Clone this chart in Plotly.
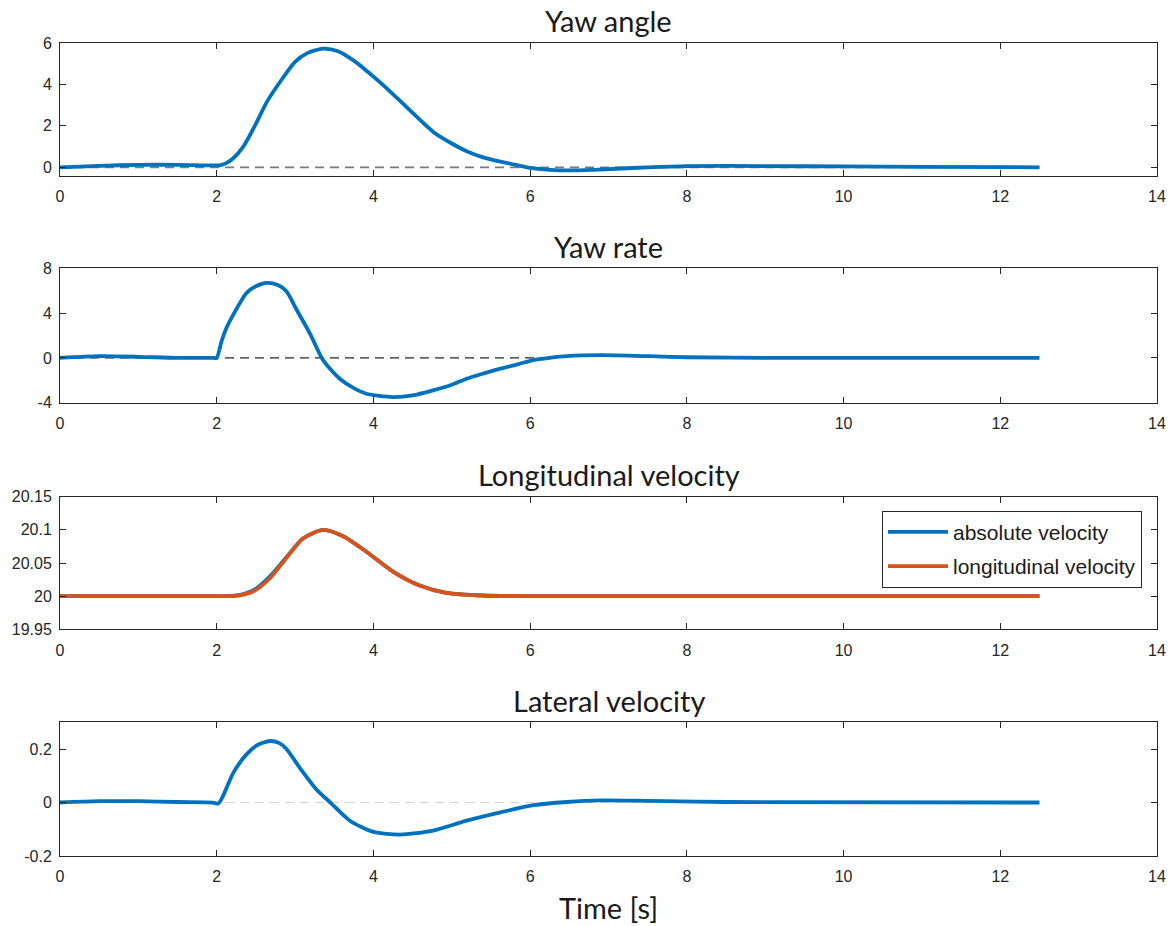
import plotly.graph_objects as go

# ---- data -------------------------------------------------------------
# Yaw angle [deg]
yaw_angle_t = [0.0, 0.5, 1.0, 1.5, 1.95, 2.05, 2.12, 2.2, 2.34, 2.5, 2.64, 2.81, 3.0, 3.15, 3.36,
               3.55, 3.74, 3.9, 4.1, 4.42, 4.76, 5.0, 5.19, 5.4, 5.62, 5.8, 6.0, 6.25, 6.5,
               6.8, 7.1, 7.5, 8.0, 9.0, 10.0, 11.0, 12.5]
yaw_angle_v = [0.0, 0.07, 0.12, 0.12, 0.09, 0.1, 0.2, 0.4, 1.0, 2.1, 3.16, 4.13, 5.09, 5.5, 5.73,
               5.6, 5.17, 4.7, 4.05, 2.92, 1.72, 1.15, 0.78, 0.48, 0.27, 0.13, -0.03, -0.12, -0.15,
               -0.12, -0.07, 0.0, 0.06, 0.06, 0.04, 0.02, 0.0]

# Yaw rate [deg/s]
yaw_rate_t = [0.0, 0.5, 1.0, 1.5, 1.96, 2.0, 2.06, 2.12, 2.21, 2.38, 2.5, 2.64, 2.78, 2.89, 3.02,
              3.2, 3.34, 3.45, 3.57, 3.75, 3.91, 4.25, 4.5, 4.76, 5.0, 5.19, 5.4, 5.62, 5.85,
              6.04, 6.25, 6.47, 6.89, 7.53, 8.0, 9.0, 12.5]
yaw_rate_v = [0.0, 0.15, 0.1, 0.0, 0.0, 0.0, 1.44, 2.6, 3.84, 5.8, 6.4, 6.7, 6.5, 5.95, 4.3,
              2.04, 0.0, -1.0, -1.86, -2.7, -3.2, -3.5, -3.35, -2.9, -2.4, -1.86, -1.4, -0.96, -0.55,
              -0.2, 0.0, 0.15, 0.24, 0.15, 0.06, 0.0, 0.0]

# Longitudinal and absolute velocity [m/s]
vel_t = [0.0, 2.0, 2.25, 2.47, 2.68, 2.94, 3.1, 3.36, 3.62, 3.91, 4.25, 4.59, 4.93, 5.4, 6.0, 12.5]
abs_vel_v = [20.0, 20.0, 20.001, 20.009, 20.03, 20.066, 20.087, 20.1, 20.09, 20.067, 20.037,
             20.016, 20.005, 20.001, 20.0, 20.0]
long_vel_v = [20.0, 20.0, 20.0005, 20.0075, 20.027, 20.065, 20.087, 20.1, 20.09, 20.067, 20.037,
              20.016, 20.005, 20.001, 20.0, 20.0]

# Lateral velocity [m/s]
lat_t = [0.0, 0.5, 1.0, 1.5, 1.95, 2.02, 2.08, 2.21, 2.38, 2.52, 2.68, 2.8, 2.89, 3.06, 3.27,
         3.45, 3.7, 4.0, 4.34, 4.76, 5.19, 5.62, 6.04, 6.47, 6.89, 7.53, 8.5, 12.5]
lat_v = [0.0, 0.005, 0.005, 0.002, 0.0, -0.004, 0.024, 0.11, 0.18, 0.215, 0.23, 0.222, 0.2, 0.13,
         0.05, 0.0, -0.068, -0.11, -0.12, -0.105, -0.068, -0.037, -0.01, 0.002, 0.008, 0.006,
         0.002, 0.0]

# zero reference lines (start, end)
zero_ref_angle = [0.0, 12.5]
zero_ref_rate = [0.0, 6.2]
zero_ref_lat = [0.0, 12.5]

titles = ["Yaw angle", "Yaw rate", "Longitudinal velocity", "Lateral velocity"]
x_ticks = [0, 2, 4, 6, 8, 10, 12, 14]
y_ticks = [
    [0, 2, 4, 6],
    [-4, 0, 4, 8],
    [19.95, 20.0, 20.05, 20.1, 20.15],
    [-0.2, 0.0, 0.2],
]
y_tick_text = [
    ["0", "2", "4", "6"],
    ["-4", "0", "4", "8"],
    ["19.95", "20", "20.05", "20.1", "20.15"],
    ["-0.2", "0", "0.2"],
]
y_ranges = [[-0.42, 6], [-4, 8], [19.95, 20.15], [-0.2, 0.3]]

# ---- styling ----------------------------------------------------------
W, H = 1175, 926
BLUE = "#0072BD"
ORANGE = "#D95319"
AX = "#262626"
TICK_FONT = dict(family="Liberation Sans, Arial, sans-serif", size=16, color=AX)
TITLE_FONT = dict(family="Lato, Open Sans, sans-serif", size=29, color="#1a1a1a")
LW = 3.8
SPLINE = dict(shape="spline", smoothing=0.7)

x_left, x_right = 60, 1157
panel_px = [(43, 176), (268.3, 402.7), (496.7, 629.3), (722.3, 856)]
title_px = [20, 247, 475, 700]

fig = go.Figure()

def dash_line(xs, color, width, axis):
    fig.add_trace(go.Scatter(x=xs, y=[0, 0], mode="lines", showlegend=False,
                             hoverinfo="skip",
                             line=dict(color=color, width=width, dash="9px,6px"),
                             xaxis=axis[0], yaxis=axis[1]))

axes = [("x", "y"), ("x2", "y2"), ("x3", "y3"), ("x4", "y4")]

# Panel 1 - yaw angle
dash_line(zero_ref_angle, "#7a7a7a", 1.8, axes[0])
fig.add_trace(go.Scatter(x=yaw_angle_t, y=yaw_angle_v, mode="lines", showlegend=False,
                         line=dict(color=BLUE, width=LW, **SPLINE), xaxis="x", yaxis="y"))

# Panel 2 - yaw rate
dash_line(zero_ref_rate, "#262626", 1.2, axes[1])
fig.add_trace(go.Scatter(x=yaw_rate_t, y=yaw_rate_v, mode="lines", showlegend=False,
                         line=dict(color=BLUE, width=LW, **SPLINE), xaxis="x2", yaxis="y2"))

# Panel 3 - velocities
fig.add_trace(go.Scatter(x=vel_t, y=abs_vel_v, mode="lines", name="absolute velocity",
                         legendgroup="abs",
                         line=dict(color=BLUE, width=LW, **SPLINE), xaxis="x3", yaxis="y3"))
fig.add_trace(go.Scatter(x=vel_t, y=long_vel_v, mode="lines", name="longitudinal velocity",
                         legendgroup="long",
                         line=dict(color=ORANGE, width=LW, **SPLINE), xaxis="x3", yaxis="y3"))

# Panel 4 - lateral velocity
dash_line(zero_ref_lat, "#d4d4d4", 1.2, axes[3])
fig.add_trace(go.Scatter(x=lat_t, y=lat_v, mode="lines", showlegend=False,
                         line=dict(color=BLUE, width=LW, **SPLINE), xaxis="x4", yaxis="y4"))

layout = dict(
    template="none",
    width=W, height=H,
    margin=dict(l=0, r=0, t=0, b=0, autoexpand=False),
    paper_bgcolor="white", plot_bgcolor="white",
    showlegend=True,
    legend=dict(
        x=1142 / W, y=1 - 510.7 / H, xanchor="right", yanchor="top",
        bgcolor="white", bordercolor=AX, borderwidth=1,
        tracegroupgap=4, itemwidth=60,
        font=dict(family="Liberation Sans, Arial, sans-serif", size=21, color="#1a1a1a"),
    ),
    annotations=[],
)

xdom = [x_left / W, x_right / W]
for i in range(4):
    top, bot = panel_px[i]
    ydom = [1 - bot / H, 1 - top / H]
    sx = "" if i == 0 else str(i + 1)
    common = dict(
        showline=True, linecolor=AX, linewidth=1, mirror="ticks",
        ticks="inside", ticklen=6, tickcolor=AX, tickwidth=1,
        showgrid=False, zeroline=False, tickfont=TICK_FONT, automargin=False,
    )
    layout["xaxis" + sx] = dict(
        domain=xdom, range=[0, 14], anchor="y" + sx,
        tickvals=x_ticks, ticktext=[str(v) for v in x_ticks],
        ticklabelstandoff=6, **common,
    )
    layout["yaxis" + sx] = dict(
        domain=ydom, range=y_ranges[i], anchor="x" + sx,
        tickvals=y_ticks[i], ticktext=y_tick_text[i],
        ticklabelstandoff=4, **common,
    )
    layout["annotations"].append(dict(
        text=titles[i], xref="paper", yref="paper",
        x=(xdom[0] + xdom[1]) / 2, y=1 - title_px[i] / H,
        xanchor="center", yanchor="middle", showarrow=False, font=TITLE_FONT,
    ))

layout["annotations"].append(dict(
    text="Time [s]", xref="paper", yref="paper",
    x=(xdom[0] + xdom[1]) / 2, y=1 - 907 / H,
    xanchor="center", yanchor="middle", showarrow=False, font=TITLE_FONT,
))

fig.update_layout(**layout)
fig.write_html("out.html")
